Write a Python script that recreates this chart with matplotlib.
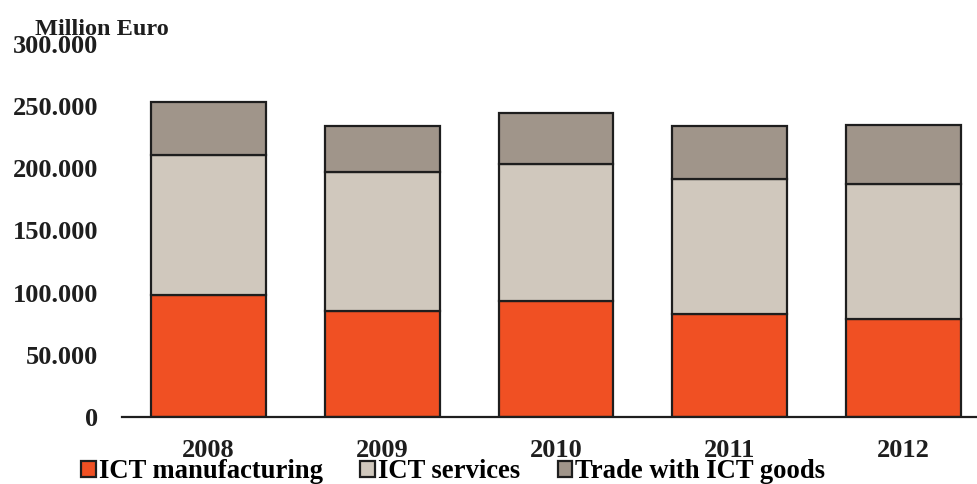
import numpy as np
import matplotlib.pyplot as plt

# values (million euro)
years = ["2008", "2009", "2010", "2011", "2012"]
ict_manufacturing = [98100, 85200, 93500, 82600, 78800]
ict_services = [112500, 112000, 109600, 108500, 108300]
trade_ict_goods = [42600, 36700, 41000, 42800, 47900]
y_ticks = [0, 50000, 100000, 150000, 200000, 250000, 300000]
y_tick_labels = ["0", "50.000", "100.000", "150.000", "200.000", "250.000", "300.000"]

plt.rcParams["font.family"] = ["Liberation Serif", "DejaVu Serif"]
plt.rcParams["font.weight"] = "bold"

fig = plt.figure(figsize=(9.78, 4.84), dpi=100)
ax = fig.add_axes([122 / 978, 1 - 417 / 484, 1 - 122 / 978, (417 - 43.8) / 484])

x = np.arange(len(years))
w = 0.66
edge = dict(edgecolor="#1e1e1e", linewidth=1.6)
b1 = ax.bar(x, ict_manufacturing, w, color="#F05023", label="ICT manufacturing", **edge)
bottom2 = np.array(ict_manufacturing)
b2 = ax.bar(x, ict_services, w, bottom=bottom2, color="#D0C8BD", label="ICT services", **edge)
bottom3 = bottom2 + np.array(ict_services)
b3 = ax.bar(x, trade_ict_goods, w, bottom=bottom3, color="#A0958A", label="Trade with ICT goods", **edge)

ax.set_xlim(-0.498, 4.43)
ax.set_ylim(0, 300000)
ax.set_xticks(x)
ax.set_xticklabels(years, fontsize=19, fontweight="bold")
ax.set_yticks(y_ticks)
ax.set_yticklabels(y_tick_labels, fontsize=19, fontweight="bold")
ax.tick_params(axis="x", length=0, pad=16)
ax.tick_params(axis="y", length=0, pad=17)
for s in ["top", "right", "left"]:
    ax.spines[s].set_visible(False)
ax.spines["bottom"].set_color("#1e1e1e")
ax.spines["bottom"].set_linewidth(1.6)

fig.text(35 / 978, 1 - 35 / 484, "Million Euro", fontsize=17.5, fontweight="bold",
         ha="left", va="baseline", color="#1e1e1e")

fig.legend(handles=[b1, b2, b3], loc="center left", bbox_to_anchor=(81 / 978, 1 - 472 / 484),
           ncol=3, frameon=False, fontsize=19.2, handlelength=0.55, handleheight=0.55,
           handletextpad=0.12, columnspacing=1.4, borderpad=0, borderaxespad=0)

for t in ax.get_xticklabels() + ax.get_yticklabels():
    t.set_color("#1e1e1e")

fig.savefig("out.png", dpi=100)
